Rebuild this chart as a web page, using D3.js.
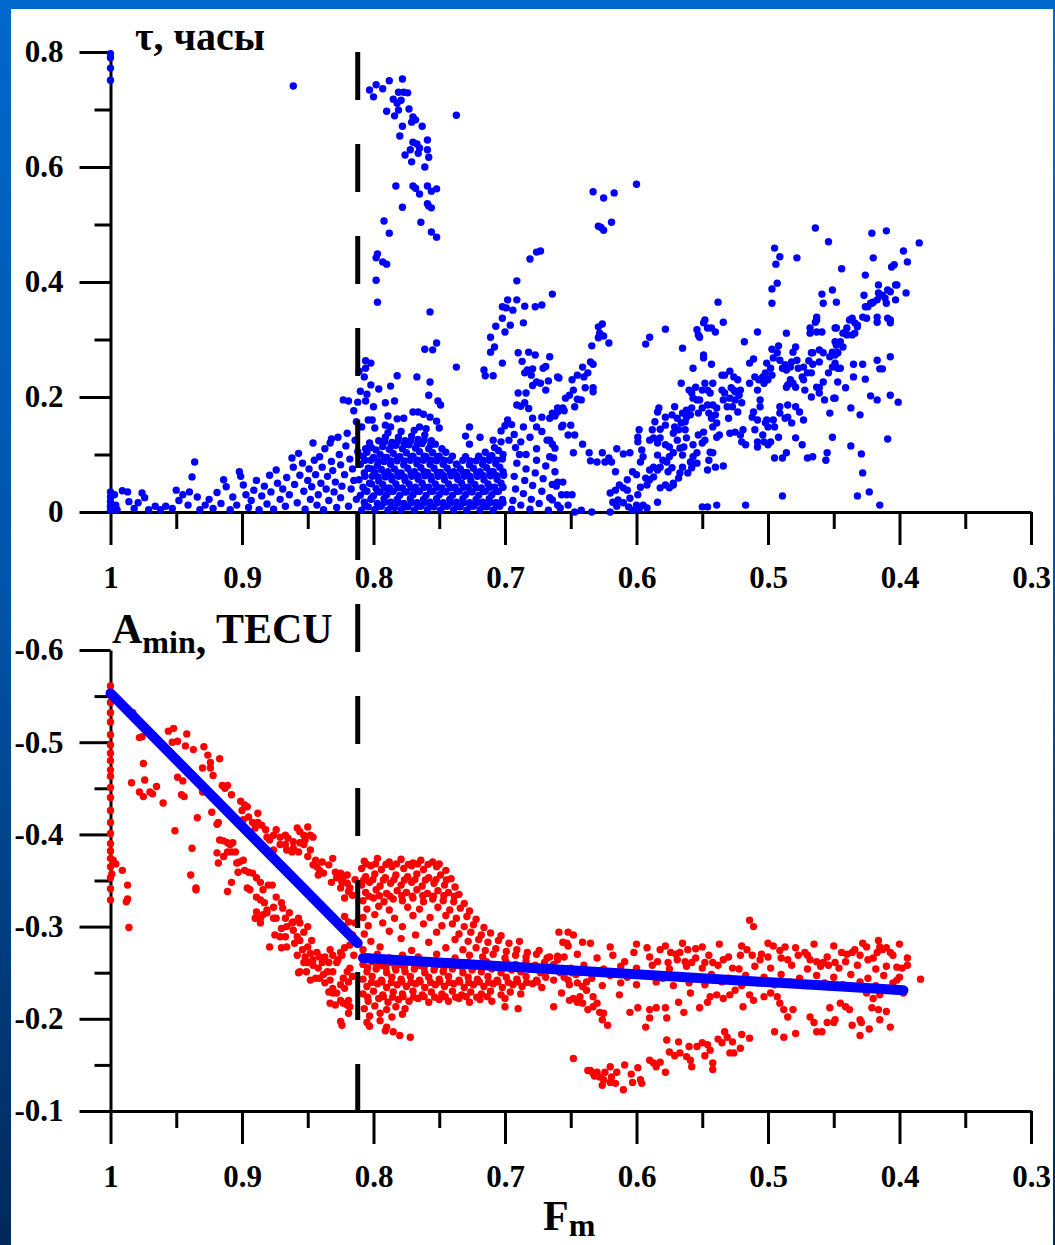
<!DOCTYPE html>
<html><head><meta charset="utf-8">
<script src="https://cdn.jsdelivr.net/npm/d3@7"></script>
<style>body{margin:0;background:#fff;} svg{display:block;}</style>
</head><body>
<svg id="c" width="1055" height="1245"></svg>
<script>
// ---------- axis definitions ----------
const xMajor = [1,0.9,0.8,0.7,0.6,0.5,0.4,0.3];
const xMinor = [0.95,0.85,0.75,0.65,0.55,0.45,0.35];
const tauMajor = [0,0.2,0.4,0.6,0.8];
const tauMinor = [0.1,0.3,0.5,0.7];
const ampMajor = [-0.6,-0.5,-0.4,-0.3,-0.2,-0.1];
const ampMinor = [-0.55,-0.45,-0.35,-0.25,-0.15];
const breakF = 0.812;
const fitLine1 = [[1,-0.553],[0.812,-0.282]];
const fitLine2 = [[0.808,-0.266],[0.397,-0.231]];

// ---------- top panel: tau (hours) vs Fm, flat [F,tau,...] ----------
const topEdge = [1,0.797, 1,0.79, 1,0.772, 1,0.751, 0.861,0.741, 1,0.035, 1,0.026, 1,0.018, 1,0.01, 1,0.003, 0.997,0.03, 0.996,0.012, 0.995,0.004];
const topLow = [0.991,0.037, 0.987,0.035, 0.986,0.018, 0.982,0.006, 0.979,0.016, 0.976,0.033, 0.974,0.025, 0.971,0.004, 0.966,0.01, 0.962,0.004, 0.958,0.01, 0.953,0.006, 0.95,0.038, 0.948,0.02, 0.945,0.03, 0.94,0.035, 0.941,0.012, 0.938,0.061, 0.936,0.087, 0.934,0.026, 0.932,0.004, 0.928,0.012, 0.925,0.022, 0.922,0.006, 0.919,0.034, 0.916,0.015, 0.914,0.056, 0.912,0.044, 0.909,0.004, 0.907,0.026, 0.904,0.012, 0.902,0.07, 0.901,0.062, 0.899,0.047, 0.897,0.03, 0.895,0.008, 0.893,0.02, 0.891,0.038, 0.889,0.055, 0.887,0.004, 0.885,0.028, 0.883,0.045, 0.881,0.014, 0.879,0.064, 0.878,0.035, 0.876,0.005, 0.874,0.073, 0.873,0.05, 0.871,0.022, 0.869,0.04, 0.867,0.01, 0.866,0.06, 0.864,0.03, 0.862,0.094, 0.861,0.078, 0.86,0.048, 0.858,0.016, 0.857,0.102, 0.856,0.064, 0.854,0.085, 0.853,0.036, 0.852,0.005, 0.85,0.055, 0.849,0.075, 0.848,0.022, 0.847,0.044, 0.846,0.12, 0.845,0.09, 0.844,0.065, 0.843,0.012, 0.842,0.03, 0.841,0.096, 0.84,0.05, 0.839,0.078, 0.838,0.004, 0.837,0.11, 0.836,0.04, 0.835,0.062, 0.834,0.02, 0.833,0.12, 0.832,0.127, 0.832,0.088, 0.831,0.072, 0.83,0.035, 0.829,0.052, 0.828,0.008, 0.827,0.13, 0.826,0.1, 0.825,0.082, 0.825,0.025, 0.824,0.045, 0.823,0.195, 0.822,0.065, 0.821,0.115, 0.82,0.137, 0.819,0.193, 0.819,0.01, 0.818,0.092, 0.817,0.04, 0.816,0.075, 0.815,0.176, 0.815,0.055, 0.814,0.125, 0.813,0.022, 0.812,0.105];
const topBlob = [0.809,0.003, 0.807,0.017, 0.81,0.029, 0.808,0.043, 0.811,0.056, 0.807,0.068, 0.81,0.083, 0.808,0.097, 0.806,0.11, 0.809,0.148, 0.81,0.21, 0.811,0.245,
0.804,0.009, 0.802,0.022, 0.805,0.036, 0.803,0.05, 0.801,0.062, 0.804,0.076, 0.802,0.09, 0.805,0.104, 0.803,0.12, 0.801,0.16,
0.799,0.004, 0.797,0.015, 0.8,0.028, 0.798,0.041, 0.796,0.054, 0.799,0.069, 0.797,0.081, 0.8,0.095, 0.798,0.108, 0.796,0.124,
0.794,0.01, 0.792,0.023, 0.795,0.035, 0.793,0.048, 0.791,0.061, 0.794,0.074, 0.792,0.088, 0.795,0.1, 0.793,0.114, 0.791,0.13,
0.789,0.003, 0.787,0.017, 0.79,0.03, 0.788,0.042, 0.786,0.056, 0.789,0.07, 0.787,0.083, 0.79,0.095, 0.788,0.109, 0.786,0.121, 0.789,0.138,
0.784,0.008, 0.782,0.022, 0.785,0.036, 0.783,0.049, 0.781,0.062, 0.784,0.075, 0.782,0.089, 0.785,0.102, 0.783,0.116, 0.781,0.13,
0.779,0.004, 0.777,0.015, 0.78,0.029, 0.778,0.042, 0.776,0.055, 0.779,0.068, 0.777,0.082, 0.78,0.096, 0.778,0.11, 0.776,0.124, 0.779,0.14,
0.774,0.009, 0.772,0.023, 0.775,0.035, 0.773,0.049, 0.771,0.062, 0.774,0.076, 0.772,0.09, 0.775,0.103, 0.773,0.117, 0.771,0.132,
0.769,0.003, 0.767,0.016, 0.77,0.03, 0.768,0.043, 0.766,0.057, 0.769,0.07, 0.767,0.084, 0.77,0.097, 0.768,0.111, 0.766,0.126, 0.769,0.142,
0.764,0.01, 0.762,0.022, 0.765,0.036, 0.763,0.05, 0.761,0.063, 0.764,0.077, 0.762,0.09, 0.765,0.105, 0.763,0.119, 0.761,0.134,
0.759,0.004, 0.757,0.017, 0.76,0.029, 0.758,0.043, 0.756,0.056, 0.759,0.069, 0.757,0.083, 0.76,0.096, 0.758,0.11, 0.756,0.124,
0.754,0.009, 0.752,0.023, 0.755,0.036, 0.753,0.049, 0.751,0.062, 0.754,0.076, 0.752,0.089, 0.755,0.103, 0.753,0.118,
0.749,0.003, 0.747,0.016, 0.75,0.03, 0.748,0.042, 0.746,0.056, 0.749,0.069, 0.747,0.083, 0.75,0.097, 0.748,0.11,
0.744,0.01, 0.742,0.022, 0.745,0.035, 0.743,0.049, 0.741,0.063, 0.744,0.076, 0.742,0.09, 0.745,0.104,
0.739,0.004, 0.737,0.017, 0.74,0.029, 0.738,0.043, 0.736,0.057, 0.739,0.07, 0.737,0.083, 0.74,0.097,
0.734,0.009, 0.732,0.023, 0.735,0.036, 0.733,0.05, 0.731,0.062, 0.734,0.075, 0.732,0.09,
0.729,0.003, 0.727,0.016, 0.73,0.03, 0.728,0.043, 0.726,0.055, 0.729,0.069, 0.727,0.082, 0.73,0.096,
0.724,0.01, 0.722,0.022, 0.725,0.035, 0.723,0.048, 0.721,0.062, 0.724,0.076, 0.722,0.089,
0.719,0.004, 0.717,0.017, 0.72,0.029, 0.718,0.042, 0.716,0.056, 0.719,0.07, 0.717,0.083, 0.72,0.097,
0.714,0.009, 0.712,0.023, 0.715,0.036, 0.713,0.049, 0.711,0.063, 0.714,0.077, 0.712,0.09, 0.715,0.104,
0.709,0.003, 0.707,0.016, 0.71,0.03, 0.708,0.043, 0.706,0.057, 0.709,0.07, 0.707,0.084, 0.71,0.098, 0.708,0.112,
0.704,0.01, 0.702,0.022, 0.705,0.036, 0.703,0.05, 0.701,0.064, 0.704,0.078, 0.702,0.092, 0.705,0.107, 0.703,0.122];
const topBlobFill = [0.8065,0.012, 0.8065,0.037, 0.8065,0.062, 0.8065,0.09,
0.8015,0.024, 0.8015,0.049, 0.8015,0.075, 0.8015,0.112,
0.7965,0.01, 0.7965,0.035, 0.7965,0.061, 0.7965,0.088,
0.7915,0.017, 0.7915,0.042, 0.7915,0.068, 0.7915,0.095, 0.7915,0.122,
0.7865,0.01, 0.7865,0.036, 0.7865,0.062, 0.7865,0.089, 0.7865,0.115,
0.7815,0.016, 0.7815,0.042, 0.7815,0.068, 0.7815,0.095, 0.7815,0.123,
0.7765,0.009, 0.7765,0.035, 0.7765,0.061, 0.7765,0.089, 0.7765,0.117,
0.7715,0.016, 0.7715,0.042, 0.7715,0.069, 0.7715,0.096, 0.7715,0.124,
0.7665,0.01, 0.7665,0.036, 0.7665,0.063, 0.7665,0.09, 0.7665,0.118,
0.7615,0.016, 0.7615,0.043, 0.7615,0.07, 0.7615,0.097, 0.7615,0.125,
0.7565,0.01, 0.7565,0.036, 0.7565,0.062, 0.7565,0.09, 0.7565,0.117,
0.7515,0.016, 0.7515,0.043, 0.7515,0.069, 0.7515,0.096,
0.7465,0.01, 0.7465,0.036, 0.7465,0.063, 0.7465,0.09,
0.7415,0.016, 0.7415,0.042, 0.7415,0.069,
0.7365,0.01, 0.7365,0.036, 0.7365,0.063, 0.7365,0.083,
0.7315,0.016, 0.7315,0.043, 0.7315,0.069,
0.7265,0.01, 0.7265,0.036, 0.7265,0.062, 0.7265,0.089,
0.7215,0.016, 0.7215,0.042, 0.7215,0.069,
0.7165,0.01, 0.7165,0.036, 0.7165,0.063, 0.7165,0.09,
0.7115,0.016, 0.7115,0.043, 0.7115,0.07, 0.7115,0.097,
0.7065,0.01, 0.7065,0.036, 0.7065,0.063, 0.7065,0.09,
0.7015,0.016, 0.7015,0.043, 0.7015,0.07, 0.7015,0.1];
const topBase2 = [0.695,0.005, 0.694,0.02, 0.692,0.04, 0.693,0.062, 0.691,0.085, 0.689,0.1, 0.688,0.012, 0.686,0.032, 0.685,0.055, 0.684,0.075, 0.681,0.005, 0.68,0.022, 0.679,0.046, 0.677,0.068, 0.676,0.09, 0.674,0.015, 0.672,0.036, 0.671,0.058, 0.669,0.08, 0.667,0.003, 0.666,0.025, 0.664,0.048, 0.662,0.07, 0.66,0.012];
const topMid = [0.806,0.263, 0.802,0.259, 0.806,0.25, 0.807,0.235, 0.802,0.221, 0.796,0.214, 0.787,0.219, 0.782,0.237, 0.767,0.235, 0.757,0.226, 0.758,0.203, 0.751,0.193, 0.749,0.186, 0.805,0.205, 0.806,0.193, 0.8,0.183, 0.812,0.191, 0.791,0.19, 0.784,0.193, 0.789,0.167, 0.782,0.162, 0.777,0.163, 0.77,0.174, 0.766,0.174, 0.762,0.17, 0.757,0.165, 0.752,0.158, 0.791,0.151, 0.787,0.148, 0.765,0.148, 0.76,0.145, 0.75,0.146, 0.799,0.146, 0.804,0.16, 0.813,0.157, 0.727,0.148, 0.73,0.132, 0.719,0.13, 0.727,0.118];
const topPlume = [0.803,0.734, 0.798,0.743, 0.793,0.736, 0.8,0.722, 0.788,0.75, 0.778,0.753, 0.781,0.73, 0.777,0.73, 0.774,0.729, 0.785,0.718, 0.782,0.711, 0.779,0.716, 0.79,0.697, 0.781,0.699, 0.784,0.689, 0.773,0.701, 0.77,0.687, 0.768,0.682, 0.771,0.678, 0.763,0.671, 0.778,0.671, 0.78,0.654, 0.77,0.643, 0.767,0.64, 0.772,0.63, 0.765,0.633, 0.759,0.647, 0.759,0.63, 0.776,0.621, 0.766,0.624, 0.758,0.617, 0.771,0.609, 0.761,0.6, 0.783,0.567, 0.77,0.567, 0.768,0.563, 0.765,0.553, 0.759,0.567, 0.756,0.558, 0.752,0.562, 0.778,0.53, 0.759,0.536, 0.756,0.529, 0.758,0.532, 0.764,0.504, 0.756,0.487, 0.752,0.478, 0.792,0.506, 0.788,0.485, 0.797,0.449, 0.798,0.442, 0.793,0.435, 0.79,0.431, 0.798,0.403, 0.797,0.365, 0.737,0.69, 0.757,0.348, 0.761,0.283, 0.755,0.282, 0.752,0.294, 0.737,0.252];
const topArm1 = [0.681,0.44, 0.676,0.452, 0.673,0.454, 0.691,0.402, 0.664,0.379, 0.702,0.357, 0.699,0.355, 0.698,0.369, 0.691,0.369, 0.694,0.351, 0.685,0.358, 0.677,0.357, 0.672,0.36, 0.702,0.337, 0.686,0.329, 0.707,0.323, 0.696,0.325, 0.7,0.313, 0.711,0.304, 0.708,0.287, 0.711,0.278, 0.702,0.259, 0.716,0.247, 0.715,0.237, 0.709,0.237, 0.69,0.277, 0.682,0.278, 0.677,0.273, 0.666,0.27, 0.687,0.262, 0.683,0.247, 0.679,0.249, 0.671,0.25, 0.669,0.253, 0.685,0.242, 0.68,0.238, 0.676,0.226, 0.673,0.224, 0.667,0.228, 0.66,0.235, 0.679,0.22, 0.669,0.212, 0.69,0.207, 0.684,0.207, 0.691,0.186, 0.688,0.184, 0.685,0.19, 0.682,0.18, 0.698,0.16, 0.7,0.15, 0.695,0.152, 0.686,0.148, 0.679,0.163, 0.672,0.165, 0.664,0.172, 0.66,0.181, 0.676,0.148, 0.672,0.14, 0.668,0.125, 0.664,0.118, 0.666,0.096, 0.657,0.148, 0.693,0.135, 0.688,0.122, 0.681,0.13, 0.676,0.11, 0.684,0.1, 0.692,0.112, 0.697,0.125, 0.703,0.141, 0.709,0.125];
const topArm2 = [0.634,0.289, 0.629,0.303, 0.628,0.311, 0.629,0.322, 0.626,0.327, 0.625,0.306, 0.621,0.294, 0.635,0.261, 0.633,0.257, 0.641,0.252, 0.645,0.238, 0.637,0.242, 0.64,0.235, 0.649,0.23, 0.639,0.216, 0.633,0.216, 0.633,0.209, 0.648,0.212, 0.651,0.203, 0.654,0.198, 0.645,0.196, 0.642,0.195, 0.647,0.183, 0.659,0.233, 0.656,0.181, 0.66,0.174, 0.655,0.176, 0.666,0.163, 0.662,0.167, 0.666,0.125, 0.662,0.111, 0.663,0.094, 0.656,0.151, 0.65,0.151, 0.652,0.134, 0.647,0.134, 0.648,0.103, 0.641,0.118, 0.636,0.103, 0.635,0.089, 0.63,0.087, 0.626,0.103, 0.624,0.087, 0.621,0.094, 0.619,0.087, 0.615,0.11, 0.61,0.101, 0.605,0.103, 0.66,0.052, 0.656,0.052, 0.661,0.045, 0.653,0.03, 0.649,0.03, 0.657,0.03, 0.664,0.021, 0.652,0.012, 0.658,0.007, 0.647,0.0, 0.642,0.003, 0.634,0.0, 0.616,0.07, 0.62,0.033, 0.616,0.038, 0.613,0.047, 0.61,0.042, 0.614,0.021, 0.618,0.017, 0.62,0.0, 0.615,0.01, 0.61,0.016, 0.606,0.009, 0.605,0.024, 0.603,0.003, 0.6,0.012, 0.607,0.038, 0.607,0.056, 0.603,0.07, 0.6,0.065, 0.597,0.043, 0.595,0.012, 0.592,0.007, 0.598,0.005, 0.599,0.03,
0.633,0.557, 0.625,0.546, 0.617,0.555, 0.6,0.57, 0.629,0.497, 0.625,0.49, 0.619,0.504, 0.627,0.495];
const topArm3 = [0.597,0.087, 0.599,0.13, 0.598,0.143, 0.599,0.122, 0.596,0.108, 0.595,0.096, 0.593,0.059, 0.592,0.047, 0.59,0.056, 0.587,0.061, 0.59,0.073, 0.587,0.078, 0.584,0.073, 0.582,0.078, 0.58,0.09, 0.584,0.099, 0.582,0.042, 0.584,0.017, 0.578,0.047, 0.575,0.042, 0.572,0.047, 0.576,0.07, 0.573,0.077, 0.577,0.087, 0.575,0.096, 0.572,0.103, 0.575,0.113, 0.578,0.117, 0.584,0.12, 0.582,0.129, 0.587,0.129, 0.59,0.125, 0.588,0.143, 0.582,0.144, 0.578,0.151, 0.586,0.157, 0.584,0.174, 0.583,0.181, 0.578,0.165, 0.573,0.169, 0.571,0.183, 0.569,0.163, 0.571,0.148, 0.572,0.137, 0.566,0.155, 0.568,0.143, 0.569,0.125, 0.567,0.111, 0.565,0.099, 0.564,0.113, 0.562,0.129, 0.563,0.143, 0.563,0.157, 0.565,0.172, 0.562,0.177, 0.559,0.169, 0.565,0.078, 0.567,0.068, 0.568,0.059, 0.572,0.05, 0.559,0.087, 0.557,0.096, 0.554,0.103, 0.554,0.085, 0.561,0.068, 0.558,0.077, 0.557,0.117, 0.553,0.134, 0.549,0.139, 0.548,0.125, 0.544,0.104, 0.542,0.103, 0.545,0.09, 0.546,0.073, 0.54,0.078, 0.534,0.08, 0.537,0.134, 0.539,0.13, 0.55,0.12,
0.558,0.207, 0.557,0.198, 0.554,0.195, 0.56,0.212, 0.555,0.217, 0.55,0.212, 0.548,0.224, 0.546,0.212, 0.542,0.224, 0.544,0.207, 0.546,0.186, 0.542,0.186, 0.539,0.181, 0.54,0.169, 0.539,0.155, 0.542,0.148, 0.543,0.163, 0.545,0.172, 0.55,0.181, 0.553,0.172, 0.552,0.195, 0.558,0.181, 0.562,0.165, 0.535,0.212, 0.533,0.207, 0.534,0.195, 0.529,0.198, 0.525,0.195, 0.531,0.183, 0.527,0.183, 0.53,0.163, 0.529,0.137, 0.525,0.139, 0.521,0.134, 0.52,0.122, 0.517,0.117, 0.519,0.143, 0.523,0.174, 0.52,0.19, 0.521,0.212, 0.522,0.203, 0.526,0.212, 0.528,0.216, 0.529,0.245, 0.526,0.235, 0.523,0.23, 0.525,0.209, 0.535,0.238, 0.533,0.238, 0.549,0.268, 0.549,0.273, 0.543,0.32, 0.54,0.313, 0.546,0.32, 0.548,0.334, 0.549,0.329, 0.554,0.317, 0.553,0.308, 0.552,0.304, 0.543,0.257, 0.534,0.33, 0.538,0.365, 0.557,0.25, 0.566,0.224, 0.578,0.318, 0.565,0.285, 0.593,0.292, 0.59,0.304, 0.518,0.296, 0.514,0.259, 0.511,0.266, 0.508,0.313,
0.514,0.224, 0.51,0.235, 0.508,0.212, 0.507,0.23, 0.504,0.235, 0.503,0.224, 0.506,0.195, 0.506,0.183, 0.511,0.174, 0.512,0.165, 0.508,0.16, 0.51,0.143, 0.508,0.122, 0.508,0.113, 0.504,0.134, 0.503,0.122, 0.502,0.155, 0.501,0.16, 0.5,0.148, 0.498,0.122, 0.5,0.117, 0.496,0.16, 0.495,0.148, 0.492,0.13, 0.495,0.094, 0.489,0.094, 0.486,0.103, 0.491,0.172, 0.491,0.183, 0.487,0.163, 0.485,0.165, 0.482,0.155, 0.485,0.186, 0.479,0.183, 0.476,0.174, 0.473,0.16, 0.479,0.129, 0.474,0.117, 0.489,0.028,
0.503,0.235, 0.502,0.242, 0.5,0.23, 0.497,0.238, 0.498,0.25, 0.501,0.259, 0.496,0.268, 0.493,0.277, 0.491,0.264, 0.487,0.256, 0.489,0.25, 0.486,0.247, 0.483,0.252, 0.482,0.261, 0.481,0.278, 0.479,0.287, 0.478,0.264, 0.477,0.25, 0.483,0.23, 0.481,0.224, 0.479,0.217, 0.485,0.221, 0.486,0.217, 0.473,0.23, 0.47,0.242, 0.474,0.235, 0.472,0.212, 0.467,0.2, 0.466,0.277, 0.461,0.282, 0.458,0.277, 0.461,0.261, 0.463,0.217, 0.461,0.216, 0.454,0.242, 0.451,0.252, 0.453,0.27, 0.451,0.278, 0.449,0.296, 0.448,0.29, 0.449,0.273, 0.447,0.277, 0.443,0.287, 0.445,0.25, 0.45,0.198, 0.449,0.198, 0.453,0.172, 0.441,0.216,
0.463,0.339, 0.463,0.334, 0.463,0.313, 0.468,0.32, 0.468,0.311, 0.464,0.33, 0.459,0.313, 0.467,0.277, 0.459,0.379, 0.458,0.363, 0.451,0.386, 0.448,0.365, 0.444,0.423, 0.464,0.494, 0.454,0.47, 0.495,0.459, 0.491,0.444, 0.494,0.431, 0.478,0.442, 0.493,0.398, 0.497,0.388, 0.497,0.363, 0.486,0.311, 0.497,0.283, 0.492,0.289,
0.449,0.32, 0.448,0.32, 0.443,0.311, 0.44,0.308, 0.441,0.313, 0.438,0.334, 0.436,0.308, 0.434,0.311, 0.432,0.322, 0.432,0.325, 0.436,0.337, 0.428,0.339, 0.426,0.357, 0.424,0.357, 0.425,0.337, 0.422,0.363, 0.421,0.363, 0.42,0.365, 0.417,0.369, 0.416,0.381, 0.415,0.377, 0.413,0.377, 0.411,0.372, 0.41,0.363, 0.409,0.386, 0.407,0.383, 0.403,0.395, 0.417,0.339, 0.417,0.33, 0.409,0.337, 0.407,0.329, 0.407,0.334, 0.403,0.369, 0.426,0.412, 0.416,0.395, 0.42,0.442, 0.421,0.485, 0.41,0.489, 0.406,0.426, 0.404,0.43, 0.397,0.454, 0.394,0.435, 0.385,0.468, 0.395,0.381, 0.402,0.395, 0.427,0.377, 0.434,0.329, 0.44,0.32, 0.445,0.296, 0.447,0.277, 0.449,0.259, 0.447,0.25, 0.435,0.257, 0.428,0.257, 0.426,0.231, 0.435,0.235, 0.417,0.264, 0.415,0.249, 0.413,0.249, 0.407,0.27, 0.422,0.202, 0.417,0.195, 0.407,0.203, 0.401,0.191, 0.437,0.181, 0.43,0.169, 0.409,0.127, 0.437,0.115, 0.429,0.101, 0.428,0.068, 0.432,0.028, 0.423,0.035, 0.415,0.012, 0.451,0.13, 0.455,0.103, 0.456,0.09, 0.466,0.096, 0.47,0.094, 0.457,0.195, 0.461,0.207, 0.467,0.242, 0.466,0.257, 0.473,0.252, 0.469,0.263, 0.458,0.226, 0.447,0.226, 0.546,0.009, 0.55,0.009, 0.539,0.012, 0.517,0.012];

// ---------- bottom panel: A_min (TECU) vs Fm, flat [F,A,...] ----------
const botEdge = [1,-0.561, 1,-0.551, 1,-0.543, 1,-0.532, 1,-0.522, 1,-0.508, 1,-0.497, 1,-0.488, 1,-0.48, 1,-0.47, 1,-0.463, 1,-0.451, 1,-0.44, 1,-0.426, 1,-0.413, 1,-0.401, 1,-0.39, 1,-0.382, 1,-0.374, 1,-0.365, 1,-0.353, 1,-0.341, 1,-0.329,
0.998,-0.372, 0.996,-0.368, 0.991,-0.361, 0.999,-0.357, 0.987,-0.345, 0.987,-0.33, 0.988,-0.327, 0.986,-0.299];
const botLeftUpper = [0.983,-0.532, 0.978,-0.505, 0.976,-0.506, 0.975,-0.477, 0.984,-0.456, 0.974,-0.459, 0.978,-0.446, 0.975,-0.441, 0.97,-0.446, 0.968,-0.444, 0.965,-0.452, 0.96,-0.434, 0.951,-0.404, 0.956,-0.512, 0.952,-0.515, 0.953,-0.5, 0.949,-0.501, 0.942,-0.509, 0.943,-0.496, 0.937,-0.492, 0.949,-0.462, 0.945,-0.458, 0.946,-0.443, 0.944,-0.441, 0.929,-0.495, 0.926,-0.486, 0.924,-0.478, 0.93,-0.472, 0.924,-0.472, 0.922,-0.464, 0.917,-0.482, 0.93,-0.446, 0.915,-0.453, 0.911,-0.453, 0.913,-0.45, 0.908,-0.443, 0.934,-0.418, 0.923,-0.424, 0.918,-0.413, 0.919,-0.411, 0.901,-0.436, 0.898,-0.432, 0.9,-0.426, 0.896,-0.43, 0.895,-0.419, 0.888,-0.423, 0.899,-0.416, 0.892,-0.413, 0.888,-0.413, 0.885,-0.41, 0.882,-0.405, 0.89,-0.407, 0.881,-0.397, 0.879,-0.394, 0.876,-0.399, 0.874,-0.405, 0.871,-0.397, 0.867,-0.399, 0.865,-0.396, 0.861,-0.392, 0.858,-0.407, 0.856,-0.403, 0.853,-0.399, 0.85,-0.408, 0.848,-0.399, 0.846,-0.397, 0.852,-0.394, 0.856,-0.391, 0.861,-0.385, 0.867,-0.389, 0.871,-0.389, 0.876,-0.383, 0.866,-0.383, 0.862,-0.381, 0.857,-0.381, 0.853,-0.389, 0.848,-0.383, 0.844,-0.372, 0.843,-0.365, 0.841,-0.361, 0.838,-0.358, 0.842,-0.356, 0.846,-0.367, 0.85,-0.376, 0.831,-0.374, 0.829,-0.359, 0.825,-0.358, 0.823,-0.354, 0.82,-0.356, 0.828,-0.353, 0.824,-0.348, 0.832,-0.348, 0.82,-0.347, 0.818,-0.342, 0.825,-0.342, 0.819,-0.338, 0.822,-0.331, 0.816,-0.334, 0.822,-0.311, 0.814,-0.351, 0.834,-0.367, 0.839,-0.37,
0.938,-0.385, 0.935,-0.342, 0.939,-0.356, 0.935,-0.34];
const botLeftLower = [0.917,-0.394, 0.914,-0.393, 0.911,-0.391, 0.909,-0.389, 0.907,-0.391, 0.905,-0.381, 0.908,-0.381, 0.911,-0.381, 0.919,-0.38, 0.914,-0.376, 0.918,-0.369, 0.904,-0.369, 0.902,-0.37, 0.899,-0.372, 0.898,-0.361, 0.895,-0.359, 0.892,-0.358, 0.903,-0.359, 0.908,-0.348, 0.911,-0.338, 0.896,-0.342, 0.894,-0.34, 0.889,-0.353, 0.886,-0.348, 0.884,-0.34, 0.889,-0.332, 0.886,-0.329, 0.88,-0.345, 0.877,-0.345, 0.883,-0.326, 0.881,-0.318, 0.876,-0.321, 0.874,-0.332, 0.87,-0.326, 0.869,-0.32, 0.876,-0.309, 0.874,-0.309, 0.89,-0.309, 0.886,-0.309, 0.886,-0.304, 0.889,-0.316, 0.884,-0.313, 0.881,-0.315, 0.867,-0.309, 0.864,-0.315, 0.861,-0.305, 0.862,-0.304, 0.866,-0.3, 0.87,-0.298, 0.875,-0.291, 0.867,-0.289, 0.871,-0.289, 0.861,-0.296, 0.857,-0.309, 0.856,-0.304, 0.853,-0.294, 0.85,-0.3, 0.858,-0.289, 0.856,-0.285, 0.86,-0.282, 0.866,-0.278, 0.87,-0.277, 0.879,-0.278, 0.858,-0.269, 0.854,-0.275, 0.852,-0.267, 0.85,-0.278, 0.847,-0.285, 0.848,-0.271, 0.846,-0.264, 0.843,-0.272, 0.841,-0.267, 0.839,-0.261, 0.842,-0.255, 0.846,-0.258, 0.85,-0.261, 0.853,-0.261, 0.856,-0.251, 0.857,-0.25, 0.851,-0.251, 0.848,-0.242, 0.844,-0.244, 0.841,-0.244, 0.838,-0.248, 0.835,-0.251, 0.834,-0.261, 0.837,-0.267, 0.833,-0.275, 0.831,-0.269, 0.828,-0.261, 0.831,-0.251, 0.833,-0.242, 0.837,-0.239, 0.834,-0.229, 0.831,-0.233, 0.828,-0.228, 0.825,-0.237, 0.823,-0.244, 0.82,-0.251, 0.818,-0.255, 0.819,-0.24, 0.822,-0.233, 0.816,-0.246, 0.827,-0.264, 0.824,-0.269, 0.822,-0.277, 0.818,-0.28, 0.815,-0.269, 0.819,-0.22, 0.82,-0.215, 0.823,-0.217, 0.825,-0.22, 0.818,-0.213, 0.819,-0.206, 0.825,-0.197, 0.824,-0.193, 0.833,-0.217, 0.831,-0.228, 0.829,-0.215, 0.825,-0.272, 0.814,-0.285, 0.816,-0.291, 0.822,-0.296, 0.819,-0.305, 0.814,-0.304];
const botMidUpper = [0.807,-0.371, 0.797,-0.374, 0.788,-0.37, 0.779,-0.373, 0.77,-0.369, 0.764,-0.372, 0.755,-0.37,
0.809,-0.363, 0.802,-0.366, 0.794,-0.362, 0.786,-0.365, 0.777,-0.363, 0.771,-0.366, 0.762,-0.362, 0.752,-0.365, 0.745,-0.361,
0.806,-0.354, 0.799,-0.357, 0.791,-0.353, 0.783,-0.356, 0.774,-0.354, 0.767,-0.357, 0.758,-0.353, 0.749,-0.356, 0.741,-0.352,
0.809,-0.345, 0.803,-0.348, 0.795,-0.344, 0.787,-0.347, 0.779,-0.345, 0.771,-0.348, 0.763,-0.344, 0.754,-0.347, 0.746,-0.345, 0.738,-0.343,
0.806,-0.337, 0.798,-0.34, 0.79,-0.336, 0.782,-0.339, 0.775,-0.337, 0.767,-0.34, 0.759,-0.336, 0.751,-0.339, 0.743,-0.337, 0.735,-0.335,
0.808,-0.328, 0.8,-0.331, 0.792,-0.327, 0.785,-0.33, 0.778,-0.328, 0.77,-0.331, 0.762,-0.327, 0.755,-0.33, 0.747,-0.328, 0.739,-0.327, 0.731,-0.325,
0.805,-0.319, 0.796,-0.322, 0.788,-0.318, 0.774,-0.321, 0.765,-0.319, 0.751,-0.321, 0.742,-0.318, 0.734,-0.32, 0.727,-0.317,
0.808,-0.31, 0.799,-0.313, 0.784,-0.309, 0.77,-0.312, 0.757,-0.31, 0.745,-0.312, 0.737,-0.309, 0.729,-0.311, 0.722,-0.308,
0.804,-0.301, 0.793,-0.304, 0.778,-0.3, 0.762,-0.303, 0.748,-0.301, 0.74,-0.303, 0.731,-0.3, 0.724,-0.302, 0.716,-0.299,
0.807,-0.292, 0.788,-0.295, 0.768,-0.291, 0.752,-0.294, 0.735,-0.292, 0.726,-0.294, 0.718,-0.291, 0.711,-0.293, 0.703,-0.29,
0.802,-0.284, 0.779,-0.287, 0.758,-0.283, 0.738,-0.286, 0.728,-0.284, 0.72,-0.286, 0.713,-0.283, 0.705,-0.285, 0.697,-0.282, 0.689,-0.284,
0.808,-0.275, 0.795,-0.278, 0.771,-0.274, 0.745,-0.277, 0.732,-0.275, 0.722,-0.277, 0.715,-0.274, 0.707,-0.276, 0.699,-0.273, 0.691,-0.275, 0.683,-0.272, 0.674,-0.274,
0.804,-0.267, 0.797,-0.27, 0.788,-0.266, 0.778,-0.269, 0.766,-0.267, 0.752,-0.27, 0.738,-0.266, 0.727,-0.269, 0.717,-0.267, 0.709,-0.27, 0.7,-0.266, 0.692,-0.269, 0.684,-0.267, 0.676,-0.27, 0.668,-0.266, 0.66,-0.268];
const botMidLower = [0.808,-0.259, 0.801,-0.262, 0.794,-0.258, 0.787,-0.261, 0.78,-0.259, 0.772,-0.262, 0.765,-0.258, 0.757,-0.261, 0.75,-0.259, 0.743,-0.262, 0.736,-0.258, 0.728,-0.261, 0.721,-0.259, 0.714,-0.262, 0.706,-0.258, 0.699,-0.261, 0.692,-0.259, 0.684,-0.262, 0.677,-0.258, 0.67,-0.261, 0.663,-0.259,
0.805,-0.251, 0.798,-0.254, 0.79,-0.25, 0.783,-0.253, 0.776,-0.251, 0.769,-0.254, 0.761,-0.25, 0.754,-0.253, 0.747,-0.251, 0.74,-0.254, 0.732,-0.25, 0.725,-0.253, 0.718,-0.251, 0.71,-0.254, 0.703,-0.25, 0.695,-0.253, 0.688,-0.251, 0.681,-0.254, 0.673,-0.25, 0.666,-0.253,
0.808,-0.243, 0.801,-0.246, 0.794,-0.242, 0.786,-0.245, 0.779,-0.243, 0.772,-0.246, 0.765,-0.242, 0.758,-0.245, 0.75,-0.243, 0.743,-0.246, 0.735,-0.242, 0.728,-0.245, 0.721,-0.243, 0.713,-0.246, 0.706,-0.242, 0.699,-0.245, 0.691,-0.243, 0.684,-0.246, 0.676,-0.242, 0.669,-0.245,
0.805,-0.235, 0.797,-0.238, 0.79,-0.234, 0.782,-0.237, 0.775,-0.235, 0.768,-0.238, 0.761,-0.234, 0.753,-0.237, 0.746,-0.235, 0.739,-0.238, 0.731,-0.234, 0.724,-0.237, 0.716,-0.235, 0.709,-0.238, 0.702,-0.234, 0.694,-0.237, 0.687,-0.235, 0.679,-0.238, 0.672,-0.234,
0.808,-0.227, 0.8,-0.23, 0.793,-0.226, 0.785,-0.229, 0.778,-0.227, 0.77,-0.23, 0.763,-0.226, 0.756,-0.229, 0.748,-0.227, 0.74,-0.23, 0.733,-0.226, 0.726,-0.229, 0.718,-0.227, 0.711,-0.23, 0.703,-0.226, 0.696,-0.229, 0.688,-0.227,
0.804,-0.219, 0.796,-0.222, 0.789,-0.218, 0.781,-0.221, 0.773,-0.219, 0.766,-0.222, 0.758,-0.218, 0.75,-0.221, 0.743,-0.219, 0.735,-0.222, 0.727,-0.218, 0.719,-0.221, 0.71,-0.219, 0.7,-0.222,
0.807,-0.211, 0.799,-0.214, 0.79,-0.21, 0.783,-0.213, 0.776,-0.211, 0.70,-0.213, 0.69,-0.211,
0.803,-0.203, 0.795,-0.206, 0.786,-0.202, 0.778,-0.205,
0.805,-0.196, 0.795,-0.198, 0.79,-0.191, 0.791,-0.187, 0.785,-0.186, 0.78,-0.182, 0.772,-0.18, 0.803,-0.192];
const botMidFill = [0.8045,-0.2555, 0.7975,-0.256, 0.7905,-0.2555, 0.7835,-0.256, 0.7765,-0.2555, 0.7685,-0.256, 0.7615,-0.2555, 0.7535,-0.256, 0.7465,-0.2555, 0.7395,-0.256, 0.7325,-0.2555, 0.7245,-0.256, 0.7175,-0.2555, 0.7105,-0.256, 0.7025,-0.2555, 0.6955,-0.256, 0.6885,-0.2555, 0.6805,-0.256, 0.6735,-0.2555, 0.6665,-0.256,
0.8015,-0.2395, 0.7935,-0.24, 0.7865,-0.2395, 0.7785,-0.24, 0.7715,-0.2395, 0.7645,-0.24, 0.7565,-0.2395, 0.7495,-0.24, 0.7425,-0.2395, 0.7345,-0.24, 0.7275,-0.2395, 0.7195,-0.24, 0.7125,-0.2395, 0.7055,-0.24, 0.6975,-0.2395, 0.6905,-0.24, 0.6835,-0.2395, 0.6755,-0.24,
0.8045,-0.2235, 0.7925,-0.224, 0.7855,-0.2235, 0.7775,-0.224, 0.7695,-0.2235, 0.7615,-0.224, 0.7535,-0.2235, 0.7455,-0.224, 0.7375,-0.2235, 0.7295,-0.224, 0.7215,-0.2235, 0.7135,-0.224,
0.8055,-0.368, 0.7985,-0.368, 0.7905,-0.3675, 0.7825,-0.368, 0.7735,-0.3675, 0.7665,-0.368, 0.7585,-0.3675, 0.75,-0.368,
0.8075,-0.3505, 0.8005,-0.351, 0.7925,-0.3505, 0.7845,-0.351, 0.7765,-0.3505, 0.7685,-0.351, 0.7605,-0.3505, 0.7525,-0.351, 0.7445,-0.3505,
0.8035,-0.333, 0.7955,-0.3335, 0.7875,-0.333, 0.7785,-0.3335, 0.7705,-0.333, 0.7625,-0.3335, 0.7545,-0.333, 0.7465,-0.3335, 0.7385,-0.333];
const botRight = [0.659,-0.294, 0.652,-0.294, 0.648,-0.291, 0.656,-0.283, 0.653,-0.282, 0.641,-0.283, 0.666,-0.267, 0.66,-0.264, 0.658,-0.25, 0.663,-0.242, 0.656,-0.253, 0.652,-0.242, 0.649,-0.25, 0.645,-0.239, 0.641,-0.235, 0.638,-0.231, 0.643,-0.224, 0.641,-0.217, 0.633,-0.224, 0.63,-0.217, 0.637,-0.21, 0.633,-0.213, 0.628,-0.207, 0.625,-0.206, 0.626,-0.199, 0.622,-0.193, 0.651,-0.22, 0.648,-0.222, 0.645,-0.218, 0.657,-0.228, 0.663,-0.213,
0.609,-0.262, 0.602,-0.272, 0.592,-0.277, 0.582,-0.275, 0.574,-0.272, 0.567,-0.272, 0.561,-0.275, 0.555,-0.276, 0.584,-0.262, 0.576,-0.261, 0.569,-0.264, 0.563,-0.262, 0.558,-0.261, 0.548,-0.261, 0.542,-0.261, 0.534,-0.264, 0.527,-0.255, 0.521,-0.269, 0.516,-0.275, 0.512,-0.269, 0.506,-0.264, 0.5,-0.267, 0.496,-0.279, 0.491,-0.274, 0.485,-0.264, 0.479,-0.277, 0.477,-0.269, 0.472,-0.272, 0.468,-0.264, 0.463,-0.262, 0.458,-0.261, 0.454,-0.258, 0.449,-0.261, 0.444,-0.272, 0.441,-0.262, 0.436,-0.272, 0.434,-0.275, 0.43,-0.269, 0.425,-0.278, 0.424,-0.264, 0.417,-0.272, 0.416,-0.285, 0.413,-0.275, 0.41,-0.277, 0.407,-0.272, 0.402,-0.256, 0.394,-0.266, 0.394,-0.258, 0.384,-0.243, 0.514,-0.307, 0.511,-0.3,
0.613,-0.226, 0.605,-0.207, 0.599,-0.212, 0.59,-0.21, 0.593,-0.191, 0.59,-0.201, 0.585,-0.212, 0.578,-0.212, 0.577,-0.201, 0.568,-0.218, 0.564,-0.207, 0.559,-0.228, 0.552,-0.212, 0.546,-0.218, 0.544,-0.224, 0.539,-0.226, 0.534,-0.222, 0.529,-0.226, 0.525,-0.231, 0.519,-0.213, 0.514,-0.226, 0.511,-0.22, 0.503,-0.224, 0.498,-0.228, 0.493,-0.224, 0.491,-0.217, 0.488,-0.21, 0.485,-0.202, 0.481,-0.21, 0.495,-0.186, 0.488,-0.18, 0.479,-0.184, 0.468,-0.202, 0.465,-0.196, 0.463,-0.186, 0.459,-0.186, 0.455,-0.196, 0.453,-0.212, 0.45,-0.196, 0.449,-0.199, 0.445,-0.217, 0.441,-0.213, 0.438,-0.21, 0.436,-0.193, 0.43,-0.199, 0.429,-0.196, 0.43,-0.182, 0.423,-0.189, 0.421,-0.212, 0.416,-0.21, 0.415,-0.199, 0.41,-0.208, 0.407,-0.191, 0.425,-0.228, 0.42,-0.222, 0.415,-0.226, 0.41,-0.231, 0.405,-0.235, 0.402,-0.242, 0.397,-0.228,
0.652,-0.279, 0.635,-0.282, 0.62,-0.278, 0.6,-0.281, 0.578,-0.279, 0.565,-0.282, 0.55,-0.278, 0.537,-0.281, 0.52,-0.279, 0.5,-0.282, 0.487,-0.278, 0.465,-0.281, 0.45,-0.279, 0.428,-0.282, 0.415,-0.278, 0.4,-0.281,
0.655,-0.267, 0.645,-0.27, 0.63,-0.266, 0.618,-0.269, 0.59,-0.267, 0.57,-0.27, 0.555,-0.266, 0.545,-0.269, 0.53,-0.267, 0.505,-0.27, 0.49,-0.266, 0.47,-0.269, 0.455,-0.267, 0.44,-0.27, 0.42,-0.266, 0.405,-0.269,
0.65,-0.255, 0.64,-0.258, 0.625,-0.254, 0.612,-0.257, 0.6,-0.255, 0.588,-0.258, 0.575,-0.254, 0.562,-0.257, 0.55,-0.255, 0.538,-0.258, 0.522,-0.254, 0.51,-0.257, 0.498,-0.255, 0.482,-0.258, 0.47,-0.254, 0.46,-0.257, 0.446,-0.255, 0.432,-0.258, 0.418,-0.254, 0.41,-0.257, 0.398,-0.255,
0.655,-0.245, 0.646,-0.248, 0.634,-0.244, 0.62,-0.247, 0.607,-0.245, 0.595,-0.248, 0.58,-0.244, 0.568,-0.247, 0.555,-0.245, 0.543,-0.248, 0.53,-0.244, 0.517,-0.247, 0.503,-0.245, 0.49,-0.248, 0.476,-0.244, 0.463,-0.247, 0.45,-0.245, 0.437,-0.248, 0.424,-0.244, 0.412,-0.247, 0.4,-0.245,
0.651,-0.237, 0.638,-0.24, 0.626,-0.236, 0.612,-0.239, 0.6,-0.237, 0.585,-0.24, 0.572,-0.236, 0.56,-0.239, 0.548,-0.237, 0.535,-0.24, 0.52,-0.236, 0.508,-0.239, 0.495,-0.237, 0.483,-0.24, 0.47,-0.236, 0.457,-0.239, 0.443,-0.237, 0.43,-0.24, 0.418,-0.236, 0.405,-0.239];
const botBranch = [0.648,-0.157, 0.635,-0.144, 0.633,-0.141, 0.63,-0.142, 0.628,-0.137, 0.625,-0.134, 0.624,-0.142, 0.62,-0.148, 0.619,-0.137, 0.62,-0.131, 0.615,-0.142, 0.61,-0.123, 0.609,-0.15, 0.603,-0.131, 0.599,-0.147, 0.597,-0.134, 0.596,-0.13, 0.587,-0.152, 0.585,-0.148, 0.582,-0.153, 0.578,-0.142, 0.577,-0.177, 0.575,-0.164, 0.568,-0.175, 0.567,-0.163, 0.562,-0.159, 0.559,-0.155, 0.558,-0.148, 0.554,-0.17, 0.55,-0.174, 0.546,-0.172, 0.544,-0.166, 0.542,-0.152, 0.542,-0.145, 0.535,-0.174, 0.533,-0.186, 0.531,-0.18, 0.527,-0.175, 0.526,-0.163, 0.521,-0.168, 0.529,-0.163, 0.514,-0.179, 0.637,-0.144, 0.632,-0.138, 0.626,-0.128, 0.616,-0.13, 0.604,-0.14, 0.59,-0.155, 0.571,-0.16, 0.56,-0.17, 0.548,-0.16, 0.538,-0.178, 0.52,-0.183];

function pairs(a){ const r=[]; for(let i=0;i<a.length;i+=2) r.push([a[i],a[i+1]]); return r; }
const topPoints = [topEdge, topLow, topBlob, topBlobFill, topBase2, topMid, topPlume, topArm1, topArm2, topArm3].flatMap(pairs);
const botPoints = [botEdge, botLeftUpper, botLeftLower, botMidUpper, botMidLower, botMidFill, botRight, botBranch].flatMap(pairs);

// ---------- drawing ----------
const svg = d3.select('#c');
const defs = svg.append('defs');
const grad = defs.append('linearGradient').attr('id','bg').attr('x1',0).attr('y1',0).attr('x2',0).attr('y2',1);
grad.append('stop').attr('offset','0%').attr('stop-color','#0068cc');
grad.append('stop').attr('offset','50%').attr('stop-color','#0052a6');
grad.append('stop').attr('offset','100%').attr('stop-color','#00295a');
svg.append('rect').attr('width',1055).attr('height',1245).attr('fill','url(#bg)');
svg.append('rect').attr('x',11).attr('y',9).attr('width',1042).attr('height',1236).attr('fill','#ffffff');

const x = d3.scaleLinear().domain([1,0.3]).range([110.5,1031]);
const yT = d3.scaleLinear().domain([0,0.8]).range([512,52]);
const yB = d3.scaleLinear().domain([-0.1,-0.6]).range([1111,650]);

const FONT = '"Liberation Serif","Times New Roman",serif';
const fmt = d => d===0 ? '0' : (d===1 ? '1' : d.toFixed(1));

function styleAxis(g){
  g.attr('font-family',FONT).attr('font-size',31).attr('font-weight','bold');
  g.selectAll('.domain').attr('stroke','#000').attr('stroke-width',3);
  g.selectAll('.tick line').attr('stroke','#000').attr('stroke-width',3);
  g.selectAll('.tick text').attr('fill','#000');
}
function drawX(yPos){
  const g = svg.append('g').attr('transform',`translate(0,${yPos})`)
    .call(d3.axisBottom(x).tickValues(xMajor).tickSize(33).tickSizeOuter(0).tickPadding(21).tickFormat(fmt));
  styleAxis(g);
  const gm = svg.append('g').attr('transform',`translate(0,${yPos})`)
    .call(d3.axisBottom(x).tickValues(xMinor).tickSize(17).tickSizeOuter(0).tickFormat(''));
  gm.select('.domain').remove();
  styleAxis(gm);
}
function drawY(scale, major, minor){
  const g = svg.append('g').attr('transform','translate(110.5,0)')
    .call(d3.axisLeft(scale).tickValues(major).tickSize(31).tickSizeOuter(0).tickPadding(16).tickFormat(fmt));
  styleAxis(g);
  const gm = svg.append('g').attr('transform','translate(110.5,0)')
    .call(d3.axisLeft(scale).tickValues(minor).tickSize(16).tickSizeOuter(0).tickFormat(''));
  gm.select('.domain').remove();
  styleAxis(gm);
}
drawX(yT(0)); drawY(yT, tauMajor, tauMinor);
drawX(yB(-0.1)); drawY(yB, ampMajor, ampMinor);

// points
const R = 3.7;
svg.append('g').selectAll('circle').data(topPoints).join('circle')
  .attr('cx',d=>x(d[0])).attr('cy',d=>yT(d[1])).attr('r',R).attr('fill','#0000ff');
svg.append('g').selectAll('circle').data(botPoints).join('circle')
  .attr('cx',d=>x(d[0])).attr('cy',d=>yB(d[1])).attr('r',R).attr('fill','#ff0000');

// fitted lines
const ln = d3.line().x(d=>x(d[0])).y(d=>yB(d[1]));
[fitLine1, fitLine2].forEach(seg => {
  svg.append('path').attr('d',ln(seg)).attr('stroke','#0000ff').attr('stroke-width',10)
    .attr('stroke-linecap','round').attr('fill','none');
});

// dashed break line
svg.append('line').attr('x1',x(breakF)).attr('x2',x(breakF)).attr('y1',yT(0.8)).attr('y2',yB(-0.1)+1)
  .attr('stroke','#000').attr('stroke-width',5).attr('stroke-dasharray','48,44');

// labels
svg.append('text').attr('x',135).attr('y',50).attr('font-family',FONT).attr('font-weight','bold').attr('font-size',40).attr('fill','#000').text('τ, часы');
const t2 = svg.append('text').attr('x',112).attr('y',643).attr('font-family',FONT).attr('font-weight','bold').attr('font-size',42).attr('fill','#000');
t2.append('tspan').text('A');
t2.append('tspan').attr('dy',10).attr('font-size',32).text('min');
t2.append('tspan').text(',');
t2.append('tspan').attr('dy',-10).text(' TECU');
const t3 = svg.append('text').attr('x',543).attr('y',1230).attr('font-family',FONT).attr('font-weight','bold').attr('font-size',42).attr('fill','#000');
t3.append('tspan').text('F');
t3.append('tspan').attr('dy',6).attr('font-size',32).text('m');
</script>
</body></html>
